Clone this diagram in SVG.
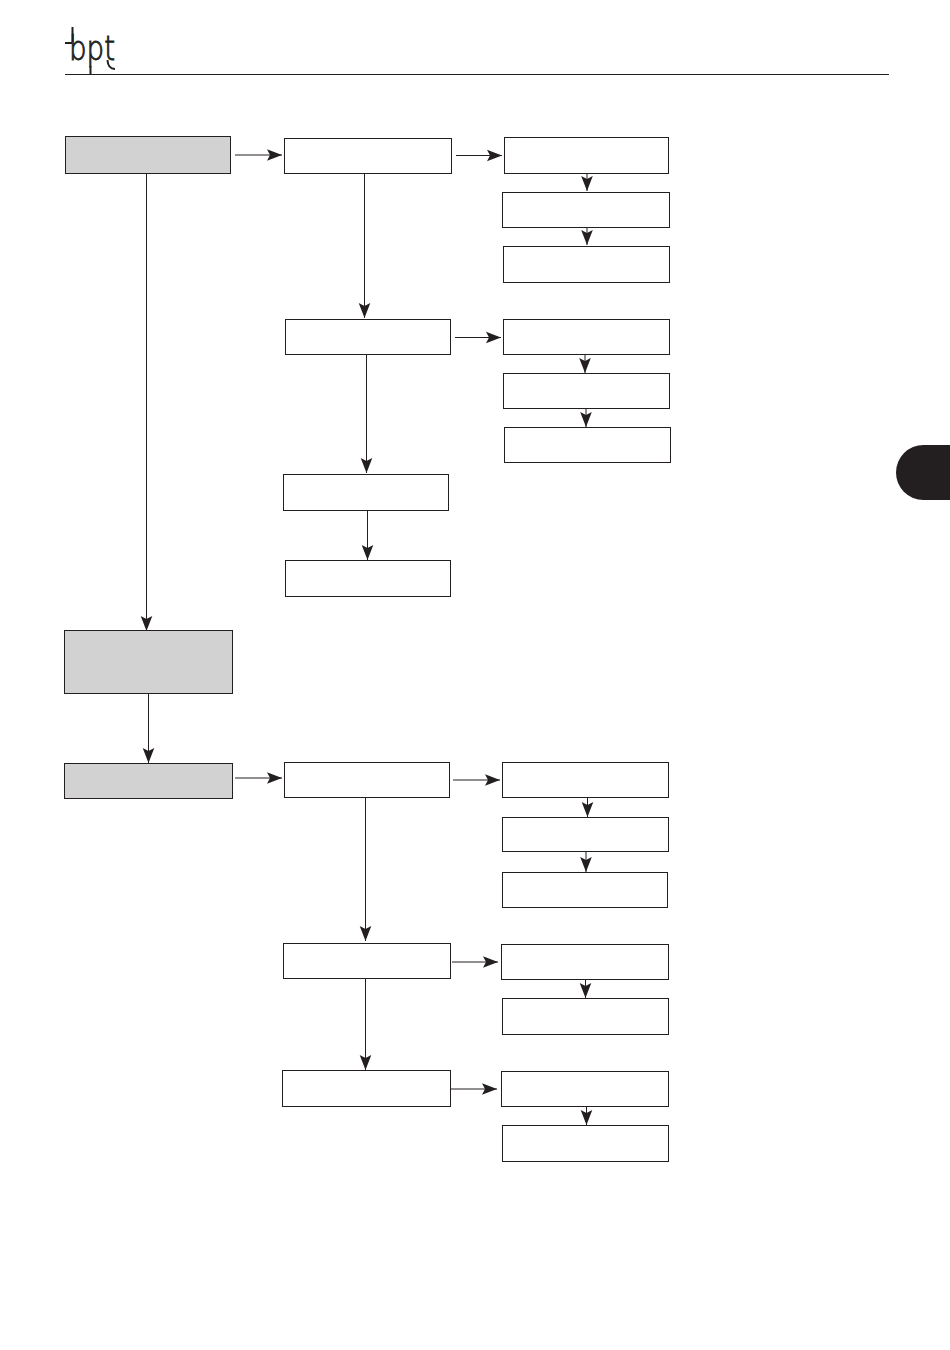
<svg xmlns="http://www.w3.org/2000/svg" width="950" height="1350" viewBox="0 0 950 1350">
<style>
.n{fill:#fff;stroke:#231f20;stroke-width:1}
.g{fill:#d2d2d2;stroke:#231f20;stroke-width:1}
.c{fill:none;stroke:#231f20;stroke-width:1;marker-end:url(#a)}
.logo{font-family:"DejaVu Sans",sans-serif;font-weight:200;font-size:33px;fill:#231f20;stroke:#231f20;stroke-width:.9px}
.lx{fill:none;stroke:#231f20;stroke-width:2}
</style>
<defs>
<marker id="a" markerUnits="userSpaceOnUse" markerWidth="17" markerHeight="13" refX="15" refY="6.500" orient="auto">
<path d="M0 0.700L15 6.500L0 12.300L3 6.500Z" fill="#231f20"/>
</marker>
</defs>
<rect width="950" height="1350" fill="#fff"/>
<g id="header">
<text class="logo" x="69" y="60" textLength="46" lengthAdjust="spacingAndGlyphs">bpt</text>
<path class="lx" d="M72.500 27V42M65 43H72M90.500 66V75M107.500 60Q108 69 115 69"/>
<path d="M65 74.500H889" fill="none" stroke="#231f20" stroke-width="1"/>
</g>
<path id="tab" d="M950 445H923.500A27.500 27.500 0 0 0 923.500 500H950Z" fill="#231f20"/>
<g id="connectors">
<path class="c" d="M235 155H282"/>
<path class="c" d="M456 155.500H502"/>
<path class="c" d="M587 173V191"/>
<path class="c" d="M587 228V245"/>
<path class="c" d="M364.500 174V318"/>
<path class="c" d="M455 337.500H501"/>
<path class="c" d="M585 355V373"/>
<path class="c" d="M586 409V427"/>
<path class="c" d="M366.500 355V473"/>
<path class="c" d="M367.500 510V560"/>
<path class="c" d="M146.500 174V631"/>
<path class="c" d="M148.500 694V763"/>
<path class="c" d="M235 778H282"/>
<path class="c" d="M453 780H500"/>
<path class="c" d="M587.500 798V817"/>
<path class="c" d="M586 852V872"/>
<path class="c" d="M365.500 798V941"/>
<path class="c" d="M452 962H498"/>
<path class="c" d="M585.500 980V998"/>
<path class="c" d="M365.500 979V1070"/>
<path class="c" d="M451 1089H497"/>
<path class="c" d="M586.500 1107V1125"/>
</g>
<g id="g1"><rect class="g" x="65.500" y="136.500" width="165" height="37"/></g>
<g id="g2"><rect class="g" x="64.500" y="630.500" width="168" height="63"/></g>
<g id="g3"><rect class="g" x="64.500" y="763.500" width="168" height="35"/></g>
<g id="b1"><rect class="n" x="284.500" y="138.500" width="167" height="35"/></g>
<g id="c1"><rect class="n" x="504.500" y="137.500" width="164" height="36"/></g>
<g id="c2"><rect class="n" x="502.500" y="192.500" width="167" height="35"/></g>
<g id="c3"><rect class="n" x="503.500" y="246.500" width="166" height="36"/></g>
<g id="b2"><rect class="n" x="285.500" y="319.500" width="165" height="35"/></g>
<g id="c4"><rect class="n" x="503.500" y="319.500" width="166" height="35"/></g>
<g id="c5"><rect class="n" x="503.500" y="373.500" width="166" height="35"/></g>
<g id="c6"><rect class="n" x="504.500" y="427.500" width="166" height="35"/></g>
<g id="b3"><rect class="n" x="283.500" y="474.500" width="165" height="36"/></g>
<g id="b4"><rect class="n" x="285.500" y="560.500" width="165" height="36"/></g>
<g id="d1"><rect class="n" x="284.500" y="762.500" width="165" height="35"/></g>
<g id="e1"><rect class="n" x="502.500" y="762.500" width="166" height="35"/></g>
<g id="e2"><rect class="n" x="502.500" y="817.500" width="166" height="34"/></g>
<g id="e3"><rect class="n" x="502.500" y="872.500" width="165" height="35"/></g>
<g id="d2"><rect class="n" x="283.500" y="943.500" width="167" height="35"/></g>
<g id="e4"><rect class="n" x="501.500" y="944.500" width="167" height="35"/></g>
<g id="e5"><rect class="n" x="502.500" y="998.500" width="166" height="36"/></g>
<g id="d3"><rect class="n" x="282.500" y="1070.500" width="168" height="36"/></g>
<g id="e6"><rect class="n" x="501.500" y="1071.500" width="167" height="35"/></g>
<g id="e7"><rect class="n" x="502.500" y="1125.500" width="166" height="36"/></g>
</svg>
